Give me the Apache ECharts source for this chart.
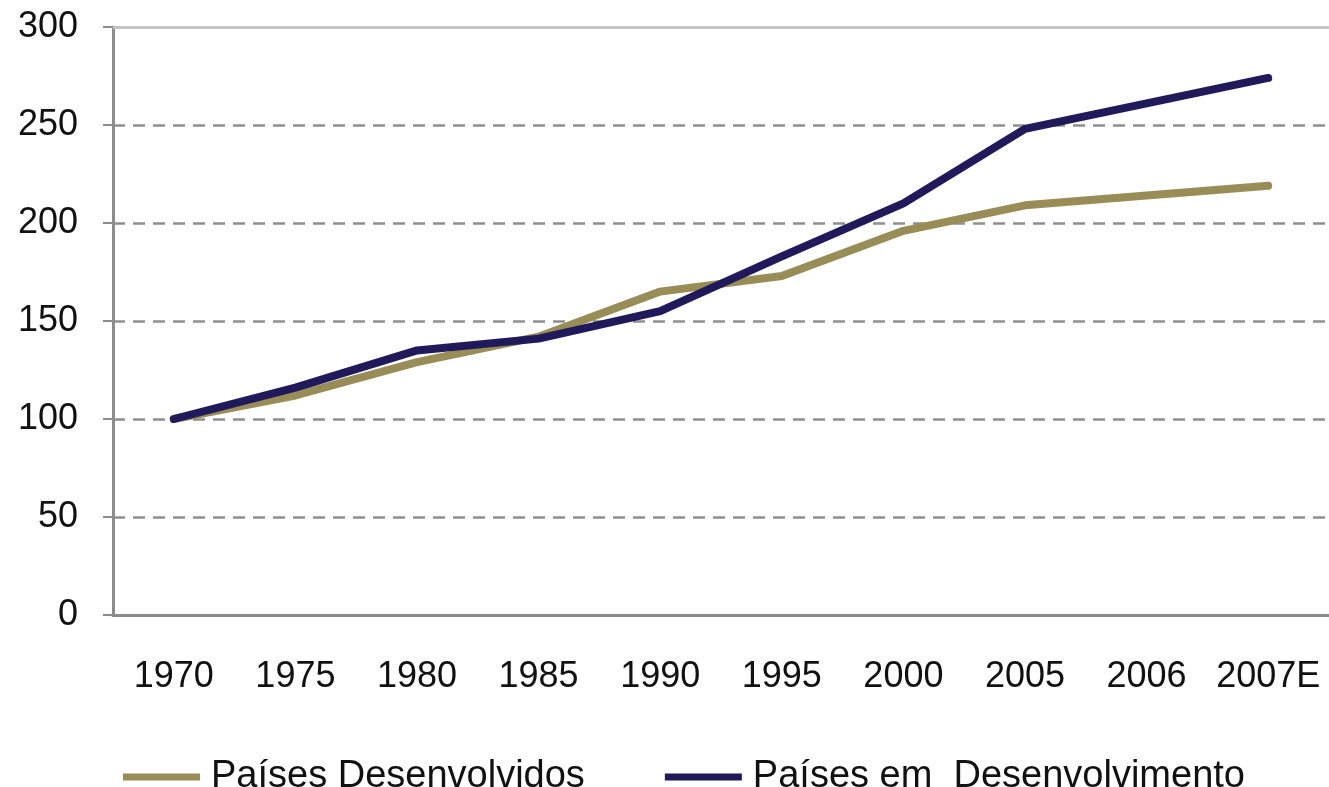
<!DOCTYPE html>
<html>
<head>
    <meta charset="utf-8">
    <title>Países Desenvolvidos x em Desenvolvimento</title>
    <script src="https://cdn.jsdelivr.net/npm/echarts@6/dist/echarts.min.js"></script>
    <style>
        html, body { margin: 0; padding: 0; background: #fff; }
        #main { width: 1329px; height: 787px; }
    </style>
</head>
<body>
<div id="main"></div>
<script>
    // categorias (eixo x)
    var anos = ['1970', '1975', '1980', '1985', '1990', '1995', '2000', '2005', '2006', '2007E'];
    // séries (índice 1970 = 100)
    var desenvolvidos = [100, 112, 129, 142, 165, 173, 196, 209, 214, 219];
    var emDesenvolvimento = [100, 116, 135, 141, 155, 183, 210, 248, 261, 274];
    var yTicks = [0, 50, 100, 150, 200, 250, 300];

    var fonte = '"Liberation Sans", Arial, sans-serif';
    var myChart = echarts.init(document.getElementById('main'));

    myChart.setOption({
        animation: false,
        grid: { left: 113, top: 27, width: 1221, height: 588 },
        legend: {
            left: 118,
            top: 753,
            icon: 'rect',
            itemWidth: 77,
            itemHeight: 7,
            itemGap: 80,
            textStyle: { fontFamily: fonte, fontSize: 38, color: '#111', padding: [0, 0, 0, 6] },
            data: ['Países Desenvolvidos', 'Países em  Desenvolvimento']
        },
        xAxis: {
            type: 'category',
            data: anos,
            boundaryGap: true,
            axisLine: { lineStyle: { color: '#8c8c8c', width: 3 } },
            axisTick: { length: 11, lineStyle: { color: '#8c8c8c', width: 2 } },
            axisLabel: { interval: 0, margin: 44, fontFamily: fonte, fontSize: 36, color: '#111' },
            splitLine: { show: false }
        },
        yAxis: {
            type: 'value',
            min: yTicks[0],
            max: yTicks[yTicks.length - 1],
            interval: 50,
            axisLine: { show: true, lineStyle: { color: '#8c8c8c', width: 3 } },
            axisTick: { show: true, length: 10, lineStyle: { color: '#8c8c8c', width: 2 } },
            axisLabel: { margin: 35, fontFamily: fonte, fontSize: 36, color: '#111' },
            splitLine: { lineStyle: { color: '#8f8f8f', width: 2.5, type: [12, 8] } }
        },
        series: [
            {
                name: 'Países Desenvolvidos',
                type: 'line',
                data: desenvolvidos,
                symbol: 'none',
                z: 2,
                lineStyle: { color: '#988d57', width: 8, cap: 'round', join: 'round' },
                itemStyle: { color: '#988d57' },
                markLine: {
                    silent: true,
                    symbol: 'none',
                    label: { show: false },
                    lineStyle: { color: '#c4c4c4', width: 3, type: 'solid' },
                    data: [{ yAxis: 300 }]
                }
            },
            {
                name: 'Países em  Desenvolvimento',
                type: 'line',
                data: emDesenvolvimento,
                symbol: 'none',
                z: 3,
                lineStyle: { color: '#20195a', width: 8, cap: 'round', join: 'round' },
                itemStyle: { color: '#20195a' }
            }
        ]
    });
</script>
</body>
</html>
